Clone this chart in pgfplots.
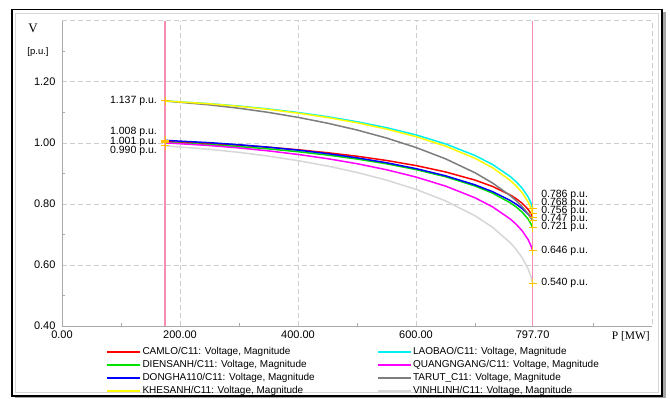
\documentclass[border=0pt]{standalone}
\usepackage{fontspec}
\setmainfont{Liberation Sans}
\newfontfamily\seriffont{Liberation Serif}
\usepackage{pgfplots}
\pgfplotsset{compat=1.18}
\definecolor{cRed}{RGB}{255,0,0}
\definecolor{cCyan}{RGB}{0,240,240}
\definecolor{cGreen}{RGB}{0,225,0}
\definecolor{cMag}{RGB}{255,0,255}
\definecolor{cBlue}{RGB}{0,0,255}
\definecolor{cDGray}{RGB}{125,125,125}
\definecolor{cYel}{RGB}{255,250,0}
\definecolor{cLGray}{RGB}{215,215,215}
\definecolor{cPink}{RGB}{245,140,180}
\definecolor{cGrid}{RGB}{205,205,205}
\definecolor{cGold}{RGB}{255,195,0}
\definecolor{cAxis}{RGB}{170,170,170}

\pgfplotstableread{
P V
175 1.004
250 0.9978
300 0.9923
350 0.9855
400 0.9773
450 0.9676
500 0.9561
550 0.9422
600 0.9255
650 0.9047
700 0.8779
730 0.8569
760 0.8289
770 0.8168
780 0.8020
790 0.7821
795 0.7675
797.7 0.756
}\camlo
\pgfplotstableread{
P V
175 1.137
250 1.1282
300 1.1204
350 1.1108
400 1.0993
450 1.0855
500 1.0691
550 1.0496
600 1.0259
650 0.9965
700 0.9585
730 0.9288
760 0.8892
770 0.8720
780 0.8511
790 0.8229
795 0.8023
797.7 0.786
}\laobao
\pgfplotstableread{
P V
175 1.001
250 0.9940
300 0.9877
350 0.9801
400 0.9709
450 0.9599
500 0.9469
550 0.9313
600 0.9123
650 0.8889
700 0.8586
730 0.8349
760 0.8033
770 0.7896
780 0.7729
790 0.7504
795 0.7340
797.7 0.721
}\diensanh
\pgfplotstableread{
P V
175 1.000
250 0.9911
300 0.9832
350 0.9736
400 0.9619
450 0.9481
500 0.9316
550 0.9118
600 0.8879
650 0.8583
700 0.8200
730 0.7900
760 0.7501
770 0.7328
780 0.7117
790 0.6832
795 0.6625
797.7 0.646
}\quangngang
\pgfplotstableread{
P V
175 1.008
250 1.0005
300 0.9938
350 0.9857
400 0.9760
450 0.9645
500 0.9509
550 0.9347
600 0.9155
650 0.8920
700 0.8623
730 0.8398
760 0.8109
770 0.7988
780 0.7846
790 0.7666
795 0.7547
797.7 0.747
}\dongha
\pgfplotstableread{
P V
175 1.137
250 1.1243
300 1.1132
350 1.0996
400 1.0834
450 1.0643
500 1.0420
550 1.0157
600 0.9847
650 0.9476
700 0.9019
730 0.8681
760 0.8265
770 0.8097
780 0.7906
790 0.7679
795 0.7542
797.7 0.747
}\tarut
\pgfplotstableread{
P V
175 1.137
250 1.1278
300 1.1195
350 1.1095
400 1.0973
450 1.0829
500 1.0657
550 1.0451
600 1.0202
650 0.9893
700 0.9493
730 0.9181
760 0.8765
770 0.8585
780 0.8364
790 0.8068
795 0.7852
797.7 0.768
}\khesanh
\pgfplotstableread{
P V
175 0.990
250 0.9787
300 0.9687
350 0.9564
400 0.9416
450 0.9240
500 0.9030
550 0.8779
600 0.8475
650 0.8099
700 0.7611
730 0.7230
760 0.6723
770 0.6503
780 0.6235
790 0.5873
795 0.5609
797.7 0.540
}\vinhlinh

\begin{document}
\begin{tikzpicture}
\useasboundingbox (0pt,0pt) rectangle (670pt,399pt);
% frame
\fill[gray!70] (15pt,0.5pt) rectangle (666pt,386.5pt);
\fill[white] (12pt,3pt) rectangle (662pt,389.5pt);
\draw[black, line width=1.6pt] (12pt,3pt) rectangle (662pt,389.5pt);
\draw[cLGray, line width=0.8pt] (15.5pt,6.5pt) rectangle (658.5pt,386pt);
% axis labels
\node[font=\seriffont\fontsize{13}{15}\selectfont] at (33pt,371pt) {V};
\node[font=\fontsize{9.5}{11}\selectfont] at (38pt,347pt) {[p.u.]};
\node[anchor=east, inner sep=0pt, font=\seriffont\fontsize{11.5}{13}\selectfont] at (650pt,63pt) {P [MW]};
\begin{axis}[
  at={(62pt,73pt)}, anchor=south west,
  scale only axis, width=590pt, height=305.3pt,
  xmin=0, xmax=1000, ymin=0.4, ymax=1.4,
  axis x line*=bottom, axis y line*=left,
  axis line style={cAxis, line width=0.6pt, -},
  xtick={0,200,400,600,797.7},
  xticklabels={0.00,200.00,400.00,600.00,797.70},
  ytick={0.4,0.6,0.8,1.0,1.2},
  yticklabels={0.40,0.60,0.80,1.00,1.20},
  minor xtick={100,300,500,700,900},
  minor ytick={0.5,0.7,0.9,1.1,1.3},
  major tick length=0pt, minor tick length=3pt,
  tick align=inside, tick style={cAxis},
  grid=major, major grid style={cGrid, dash pattern=on 5pt off 3pt, line width=0.6pt},
  /pgf/number format/assume math mode=true,
  tick label style={font=\fontsize{11}{13}\selectfont},
  xticklabel style={yshift=-1pt},
  yticklabel style={xshift=-3pt},
  legend columns=2,
  legend cell align=left,
  legend style={draw=none, fill=none, at={(0.070,-0.058)}, anchor=north west,
    font=\fontsize{10}{12}\selectfont,
    nodes={inner sep=1.2pt, text height=7pt, text depth=2pt},
    row sep=1.8pt,
    /tikz/every even column/.append style={column sep=61pt}},
  legend image code/.code={\draw[#1, line width=1.8pt] (0pt,0pt) -- (33pt,0pt);},
  clip=false,
]
\draw[cGrid, dash pattern=on 5pt off 3pt, line width=0.6pt] (rel axis cs:0,1) -- (rel axis cs:1,1) -- (rel axis cs:1,0);

\addplot[cRed, line width=1.5pt] table[x=P,y=V] {\camlo};
\addlegendentry{CAMLO/C11: Voltage, Magnitude}
\addplot[cCyan, line width=1.5pt] table[x=P,y=V] {\laobao};
\addlegendentry{LAOBAO/C11: Voltage, Magnitude}
\addplot[cGreen, line width=1.5pt] table[x=P,y=V] {\diensanh};
\addlegendentry{DIENSANH/C11: Voltage, Magnitude}
\addplot[cMag, line width=1.5pt] table[x=P,y=V] {\quangngang};
\addlegendentry{QUANGNGANG/C11: Voltage, Magnitude}
\addplot[cBlue, line width=1.5pt] table[x=P,y=V] {\dongha};
\addlegendentry{DONGHA110/C11: Voltage, Magnitude}
\addplot[cDGray, line width=1.5pt] table[x=P,y=V] {\tarut};
\addlegendentry{TARUT\_C11: Voltage, Magnitude}
\addplot[cYel, line width=1.5pt] table[x=P,y=V] {\khesanh};
\addlegendentry{KHESANH/C11: Voltage, Magnitude}
\addplot[cLGray, line width=1.5pt] table[x=P,y=V] {\vinhlinh};
\addlegendentry{VINHLINH/C11: Voltage, Magnitude}

\draw[cPink, line width=1.3pt] (axis cs:174.5,0.4) -- (axis cs:174.5,1.4);
\draw[cPink, line width=1.3pt] (axis cs:797.7,0.4) -- (axis cs:797.7,1.4);

\addplot[only marks, mark=+, mark size=4pt, cGold, line width=1pt, forget plot] coordinates {
(175,1.137) (175,1.008) (175,1.004) (175,1.001) (175,1.000) (175,0.990)
(797.7,0.786) (797.7,0.768) (797.7,0.756) (797.7,0.747) (797.7,0.721) (797.7,0.646) (797.7,0.540)};

\begin{scope}[every node/.style={inner sep=0pt, font=\fontsize{10.5}{12}\selectfont}]
\node[anchor=east] at (axis cs:161,1.138) {1.137 p.u.};
\node[anchor=east] at (axis cs:161,1.035) {1.008 p.u.};
\node[anchor=east] at (axis cs:161,1.002) {1.001 p.u.};
\node[anchor=east] at (axis cs:161,0.973) {0.990 p.u.};
\node[anchor=west] at (axis cs:812,0.830) {0.786 p.u.};
\node[anchor=west] at (axis cs:812,0.803) {0.768 p.u.};
\node[anchor=west] at (axis cs:812,0.776) {0.756 p.u.};
\node[anchor=west] at (axis cs:812,0.750) {0.747 p.u.};
\node[anchor=west] at (axis cs:812,0.723) {0.721 p.u.};
\node[anchor=west] at (axis cs:812,0.646) {0.646 p.u.};
\node[anchor=west] at (axis cs:812,0.542) {0.540 p.u.};
\end{scope}
\end{axis}
\end{tikzpicture}
\end{document}
